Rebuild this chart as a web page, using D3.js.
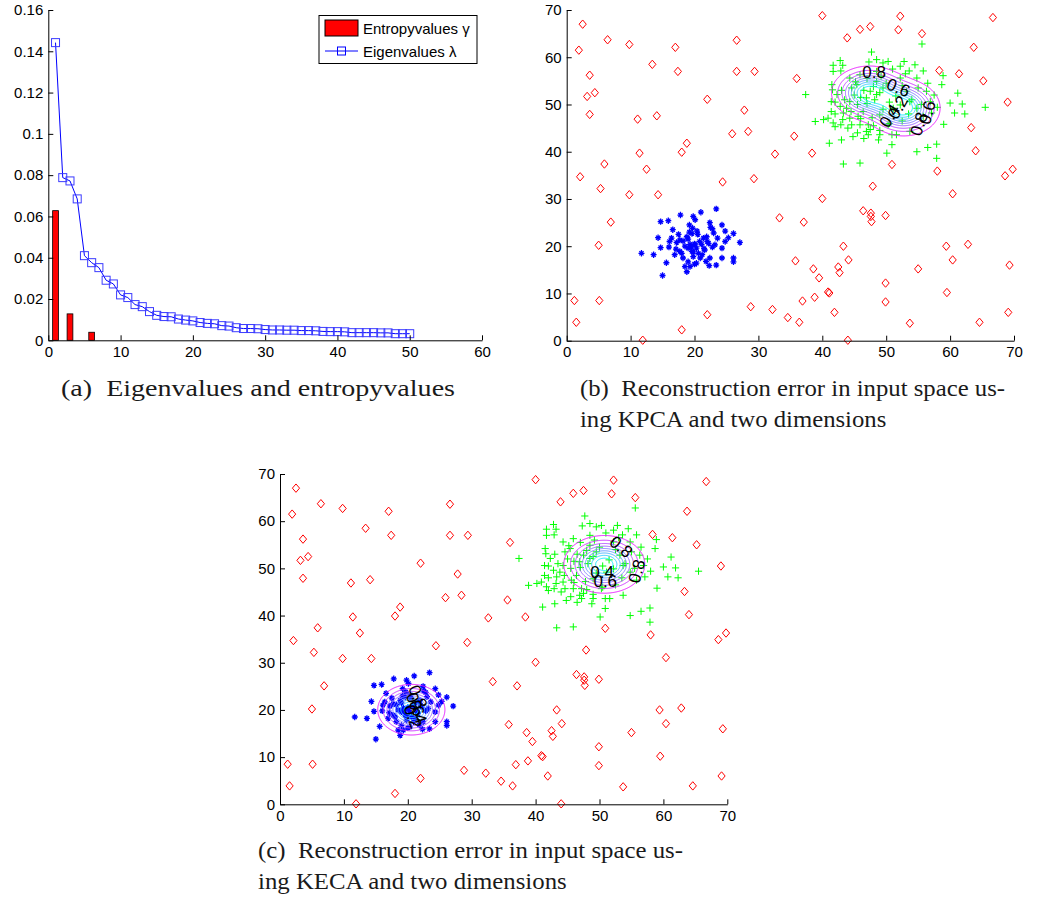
<!DOCTYPE html>
<html><head><meta charset="utf-8">
<script src="https://cdn.jsdelivr.net/npm/d3@7"></script>
<style>body{margin:0;background:#fff}svg{display:block}</style>
</head><body>
<svg id="fig" width="1038" height="901"></svg>
<script>
// ---------------- DATA ----------------
const componentIndex = d3.range(1, 51);
const eigenvalues = [0.1442,0.0788,0.0772,0.0685,0.0410,0.0376,0.0352,0.0291,0.0273,0.0220,
  0.0207,0.0173,0.0163,0.0139,0.0121,0.0115,0.0114,0.0103,0.0098,0.0094,
  0.0086,0.0082,0.0080,0.0071,0.0069,0.0061,0.0057,0.0057,0.0056,0.0052,
  0.0050,0.0050,0.0049,0.0049,0.0047,0.0047,0.0046,0.0043,0.0042,0.0042,
  0.0041,0.0037,0.0037,0.0037,0.0037,0.0036,0.0036,0.0032,0.0032,0.0032];
const entropyvalues = [0.0628,0,0.0128,0,0,0.0039,0,0,0,0,
  0,0,0,0,0,0,0,0,0,0, 0,0,0,0,0,0,0,0,0,0,
  0,0,0,0,0,0,0,0,0,0, 0,0,0,0,0,0,0,0,0,0];
const xTicksA = [0,10,20,30,40,50,60];
const yTicksA = [0,0.02,0.04,0.06,0.08,0.1,0.12,0.14,0.16];
const yTickLabelsA = ["0","0.02","0.04","0.06","0.08","0.1","0.12","0.14","0.16"];
const legendLabels = ["Entropyvalues \u03b3","Eigenvalues \u03bb"];

const scatterTicks = [0,10,20,30,40,50,60,70];

const outlierPoints = [[2.5,67.0],[1.9,61.5],[6.4,63.7],[9.8,62.7],[3.6,56.2],[3.2,51.7],[4.4,52.5],[3.6,47.9],
 [13.4,58.5],[17.0,62.1],[17.4,57.0],[11.1,46.9],[14.1,47.6],[11.4,39.7],[12.5,36.3],[18.0,39.9],[18.8,41.8],
 [2.1,34.7],[5.9,37.4],[5.3,32.2],[9.8,30.9],[14.3,30.9],[6.9,25.1],[5.0,20.2],[1.2,8.5],[1.5,3.9],[5.1,8.5],
 [11.9,0.1],[18.0,2.3],[22.0,5.5],[22.0,51.1],[26.6,63.6],[26.6,57.0],[29.4,57.0],[27.8,48.8],[25.9,43.8],
 [28.4,44.3],[24.4,33.6],[29.3,34.3],[28.8,7.2],[32.2,6.6],[34.6,4.9],[36.4,3.9],[33.3,26.0],[32.6,39.5],
 [35.6,43.3],[36.0,55.5],[37.1,25.1],[35.8,16.9],[36.9,8.4],[38.4,39.7],[40.0,68.8],[40.0,30.1],[38.6,15.2],
 [39.5,13.3],[38.8,9.2],[40.9,10.3],[41.1,10.1],[41.9,6.0],[42.5,15.6],[42.7,14.4],[43.3,20.0],[44.1,17.1],
 [44.0,0.1],[43.9,64.1],[45.9,65.9],[47.5,66.5],[46.4,27.5],[47.6,27.0],[47.6,26.3],[47.7,25.2],[47.9,32.7],
 [49.9,26.5],[49.9,12.2],[49.9,8.2],[50.9,37.3],[51.9,65.8],[52.2,68.7],[55.6,65.0],[53.7,3.7],[55.0,15.2],
 [58.3,57.2],[58.0,35.9],[59.4,20.0],[59.5,10.2],[60.4,31.1],[60.4,17.1],[61.4,56.5],[63.7,62.1],[63.3,45.1],
 [64.0,40.2],[62.8,20.4],[64.6,3.9],[65.2,55.0],[66.7,68.4],[69.0,50.5],[69.8,36.3],[68.6,34.9],[69.3,16.0],
 [69.1,6.0]];

const greenPoints = [[55.6,62.8],[47.7,61.1],[48.5,59.5],[42.8,59.3],[41.7,58.3],[43.2,58.3],[47.3,59.0],
 [50.3,59.1],[52.8,59.1],[52.2,58.1],[54.5,58.4],[55.8,57.1],[58.9,56.1],[41.7,57.0],[42.9,57.1],[53.6,57.1],
 [49.5,58.8],[37.4,52.1],[41.5,54.2],[41.6,53.1],[42.3,52.1],[41.4,50.6],[41.4,48.5],[42.0,48.0],[40.9,47.1],
 [40.2,46.8],[38.9,46.4],[41.7,46.1],[42.9,45.7],[42.0,45.3],[44.6,45.7],[44.3,47.1],[45.9,45.7],[46.9,44.3],
 [47.5,44.7],[47.2,43.6],[48.8,42.5],[50.9,43.6],[50.9,41.5],[51.6,43.6],[41.1,41.8],[43.0,42.5],[50.1,39.7],
 [54.8,40.0],[56.5,40.9],[57.9,41.6],[57.9,38.6],[43.3,37.4],[45.9,37.6],[59.0,45.8],[62.3,48.0],[60.7,48.2],
 [61.9,50.1],[60.0,50.3],[65.5,49.4],[61.2,52.4],[58.0,49.4],[58.7,54.2],[54.8,55.6],[45.9,56.3],[44.3,55.6],
 [44.6,53.5],[43.8,49.2],[43.3,48.2],[42.8,49.6],[45.6,47.5],[47.2,45.7],[49.0,43.6],[50.3,45.7],[53.7,44.3],
 [46.9,51.4],[48.5,52.1],[47.5,52.8],[49.5,53.5],[53.2,52.8],[53.7,50.6],[52.2,49.9],[54.8,49.2],[51.1,49.2],
 [46.4,48.5],[49.0,47.8],[44.3,50.6],[45.4,54.2],[48.5,54.9],[52.2,55.6],[56.3,52.8],[56.9,50.6],[57.1,48.2],
 [55.8,47.5],[46.0,51.5],[47.0,50.2],[48.2,51.0],[49.0,52.5],[48.0,53.8],[46.5,53.0],[45.0,52.0],[45.5,50.0],
 [44.5,48.5],[46.0,47.0],[47.8,47.2],[49.5,49.0],[50.5,50.5],[51.5,51.8],[50.0,54.5],[49.2,56.0],[47.0,55.5],
 [45.2,54.8],[43.5,51.0],[43.0,53.0],[44.0,45.0],[45.5,44.0],[48.0,45.5],[50.5,46.0],[52.5,46.5],[53.5,48.0],
 [54.0,51.0],[55.5,50.0],[55.0,53.5],[52.5,54.0],[49.0,44.5],[46.5,42.8],[44.8,43.2],[43.2,46.8],[42.0,50.5],
 [48.5,57.0],[51.0,57.5],[53.0,56.5],[56.5,54.5],[57.5,52.0]];

const bluePoints = [[23.4,27.9],[21.0,27.2],[17.8,26.6],[19.8,26.3],[20.1,25.6],[14.7,25.2],[15.9,25.4],
 [22.4,25.0],[24.3,24.5],[19.2,24.5],[16.6,23.5],[19.7,23.8],[20.4,23.2],[22.8,23.7],[24.8,23.2],[26.1,22.7],
 [19.6,22.7],[21.9,22.0],[23.6,21.7],[25.3,21.8],[14.3,21.8],[16.4,21.7],[17.7,21.3],[16.1,21.0],[17.2,20.8],
 [18.2,21.1],[27.1,20.8],[14.7,19.7],[19.3,20.4],[20.1,20.3],[21.1,20.4],[22.2,20.6],[23.2,20.3],[24.3,19.6],
 [17.1,19.4],[19.0,19.6],[20.3,19.6],[21.6,19.2],[11.7,18.5],[13.6,18.2],[16.9,18.2],[18.2,17.5],[19.8,17.8],
 [20.9,17.5],[22.4,17.5],[24.3,17.5],[26.1,17.5],[26.1,16.7],[15.6,16.5],[19.0,16.7],[20.3,16.4],[22.3,15.9],
 [23.4,16.0],[18.5,15.7],[19.3,15.7],[18.8,14.6],[15.0,13.8],[20.6,18.5],[19.6,18.9],[17.7,18.9],[21.4,21.7],
 [18.8,22.0],[20.0,20.5],[19.5,19.8],[20.8,21.0],[21.5,19.5],[18.5,20.0],[19.0,21.5],[20.5,22.5],[22.0,21.0],
 [22.8,19.8],[21.2,18.2],[19.8,18.8],[18.0,18.5],[17.5,22.5],[23.0,22.8],[20.0,16.2],[21.8,16.8],[16.0,19.8],
 [24.8,21.0],[19.2,23.0],[22.5,24.0]];

const contourLevels = [0.1,0.2,0.3,0.4,0.5,0.6,0.7,0.8,0.9];
// error-surface components: [centerX, centerY, spreadX, spreadY]
const kpcaComponents = [[47.3,52.4,2.75,2.65],[52.7,49.2,2.65,2.75]];
const kecaComponents = [[50.7,50.8,2.95,2.85],[20.5,20.0,2.45,2.5]];
// contour labels: [text, x, y, angle]
const kpcaLabels = [["0.8",48.1,56.9,0],["0.6",51.9,53.6,22],["0.2",51.8,49.4,-60],["0.4",50.5,47.6,-58],
  ["0.6",56.4,48.3,-75],["0.8",55.1,45.9,-72]];
const kecaLabels = [["0.8",53.4,54.6,40],["0.4",50.4,49.3,0],["0.6",50.9,47.4,0],["0.8",55.8,49.4,-75],
  ["0.8",21.6,22.8,68],["0.6",21.2,21.2,68],["0.4",21.6,19.6,70],["0.2",20.8,18.6,70]];

const captions = {
  a: ["(a)  Eigenvalues and entropyvalues"],
  b: ["(b)  Reconstruction error in input space us-","ing KPCA and two dimensions"],
  c: ["(c)  Reconstruction error in input space us-","ing KECA and two dimensions"]
};

// ---------------- DRAW ----------------
const svg = d3.select("#fig");
const tickFont = "'Liberation Sans', Arial, sans-serif";
const defs = svg.append("defs");

function axes(g, x, y, xt, yt, ytl) {
  const ax = g.append("g").attr("transform", `translate(0,${y.range()[0]})`)
    .call(d3.axisBottom(x).tickValues(xt).tickSizeInner(-5).tickSizeOuter(0).tickPadding(6).tickFormat(d3.format("d")));
  const ay = g.append("g").attr("transform", `translate(${x.range()[0]},0)`)
    .call(d3.axisLeft(y).tickValues(yt).tickSizeInner(-5).tickSizeOuter(0).tickPadding(5)
      .tickFormat((d, i) => ytl ? ytl[i] : d3.format("d")(d)));
  [ax, ay].forEach(a => {
    a.selectAll("text").attr("font-family", tickFont).attr("font-size", 15).attr("fill", "#000");
    a.selectAll("line,path").attr("stroke", "#000");
    a.attr("font-family", null);
  });
}

// ----- Panel (a) -----
const xA = d3.scaleLinear([0, 60], [48.3, 482]);
const yA = d3.scaleLinear([0, 0.16], [340.3, 10]);
const gA = svg.append("g");
const bw = 0.8;
gA.selectAll("rect.bar").data(componentIndex).join("rect")
  .attr("x", d => xA(d - bw / 2)).attr("width", xA(bw) - xA(0))
  .attr("y", (d, i) => yA(entropyvalues[i])).attr("height", (d, i) => yA(0) - yA(entropyvalues[i]))
  .attr("fill", "#ff0000").attr("stroke", "#000").attr("stroke-width", 0.8);
const line = d3.line().x(d => xA(d[0])).y(d => yA(d[1]));
const eig = componentIndex.map((d, i) => [d, eigenvalues[i]]);
gA.append("path").attr("d", line(eig)).attr("fill", "none").attr("stroke", "#0000ff").attr("stroke-width", 1);
gA.selectAll("rect.mk").data(eig).join("rect").attr("class", "mk")
  .attr("x", d => xA(d[0]) - 4).attr("y", d => yA(d[1]) - 4).attr("width", 8).attr("height", 8)
  .attr("fill", "none").attr("stroke", "#3b3bff").attr("stroke-width", 1);
axes(gA, xA, yA, xTicksA, yTicksA, yTickLabelsA);
// legend
const lg = gA.append("g");
lg.append("rect").attr("x", 319).attr("y", 15.5).attr("width", 158).attr("height", 48)
  .attr("fill", "#fff").attr("stroke", "#000").attr("stroke-width", 1);
lg.append("rect").attr("x", 325).attr("y", 20).attr("width", 33).attr("height", 16)
  .attr("fill", "#ff0000").attr("stroke", "#000").attr("stroke-width", 1);
lg.append("line").attr("x1", 325).attr("x2", 358).attr("y1", 51).attr("y2", 51).attr("stroke", "#0000ff");
lg.append("rect").attr("x", 337.5).attr("y", 47).attr("width", 8).attr("height", 8)
  .attr("fill", "none").attr("stroke", "#0000ff");
lg.selectAll("text").data(legendLabels).join("text")
  .attr("x", 363).attr("y", (d, i) => 34 + i * 23).text(d => d)
  .attr("font-family", tickFont).attr("font-size", 15);

// ----- Scatter panels -----
const diamond = "M0,-4.2L3.6,0L0,4.2L-3.6,0Z";
const plus = "M-3.6,0H3.6M0,-3.6V3.6";
const aster = "M-3,0H3M0,-3.2V3.2M-2.1,-2.1L2.1,2.1M-2.1,2.1L2.1,-2.1";

const g0 = -5, step = 0.1, n = 801; // grid from -5 to 75
function field(components) {
  const v = new Float64Array(n * n);
  for (let j = 0; j < n; j++) for (let i = 0; i < n; i++) {
    const x = g0 + i * step, y = g0 + j * step;
    let s = 0;
    for (const [cx, cy, sx, sy] of components) {
      const dx = (x - cx) / sx, dy = (y - cy) / sy;
      s += Math.exp(-0.5 * (dx * dx + dy * dy));
    }
    v[j * n + i] = Math.max(0, 1 - s);
  }
  return v;
}

function scatterPanel(id, xr, yr, components, labels) {
  const x = d3.scaleLinear([0, 70], xr), y = d3.scaleLinear([0, 70], yr);
  const g = svg.append("g");
  defs.append("clipPath").attr("id", "clip" + id).append("rect")
    .attr("x", xr[0]).attr("y", yr[1]).attr("width", xr[1] - xr[0]).attr("height", yr[0] - yr[1]);
  const pts = g.append("g");
  pts.selectAll("path.o").data(outlierPoints).join("path").attr("class", "o")
    .attr("d", diamond).attr("transform", d => `translate(${x(d[0])},${y(d[1])})`)
    .attr("fill", "none").attr("stroke", "#ff0000").attr("stroke-width", 1);
  pts.selectAll("path.g").data(greenPoints).join("path").attr("class", "g")
    .attr("d", plus).attr("transform", d => `translate(${x(d[0])},${y(d[1])})`)
    .attr("fill", "none").attr("stroke", "#00ff00").attr("stroke-width", 1);
  pts.selectAll("path.b").data(bluePoints).join("path").attr("class", "b")
    .attr("d", aster).attr("transform", d => `translate(${x(d[0])},${y(d[1])})`)
    .attr("fill", "none").attr("stroke", "#0000ff").attr("stroke-width", 1.3);

  const vals = field(components);
  const cs = d3.contours().size([n, n]).thresholds(contourLevels)(vals);
  const proj = d3.geoTransform({ point(px, py) { this.stream.point(x(g0 + px * step), y(g0 + py * step)); } });
  const path = d3.geoPath(proj);
  g.append("g").attr("clip-path", `url(#clip${id})`)
    .selectAll("path").data(cs).join("path").attr("d", path)
    .attr("fill", "none").attr("stroke-width", 1)
    .attr("stroke", d => d3.rgb(255 * d.value, 255 * (1 - d.value), 255).toString());
  g.selectAll("text.cl").data(labels).join("text").attr("class", "cl")
    .attr("transform", d => `translate(${x(d[1])},${y(d[2])}) rotate(${d[3]})`)
    .attr("text-anchor", "middle").attr("dy", "0.35em")
    .attr("font-family", tickFont).attr("font-size", 17).text(d => d[0]);
  axes(g, x, y, scatterTicks, scatterTicks, null);
}
scatterPanel("b", [566.7, 1014], [340.7, 10], kpcaComponents, kpcaLabels);
scatterPanel("c", [280, 727.3], [804.3, 474], kecaComponents, kecaLabels);

// ----- Captions -----
const capFont = "'Liberation Serif', 'Times New Roman', serif";
function caption(lines, x0, y0, target) {
  const ts = lines.map((t, i) => svg.append("text").attr("x", x0).attr("y", y0 + i * 31)
    .attr("font-family", capFont).attr("font-size", 24).attr("fill", "#1a1a1a").attr("xml:space", "preserve").text(t));
  const w0 = ts[0].node().getComputedTextLength();
  const k = target / w0;
  ts.forEach(t => t.attr("textLength", t.node().getComputedTextLength() * k).attr("lengthAdjust", "spacingAndGlyphs"));
}
caption(captions.a, 61, 396, 394);
caption(captions.b, 580, 396, 425);
caption(captions.c, 258, 858, 425);
</script>
</body></html>
